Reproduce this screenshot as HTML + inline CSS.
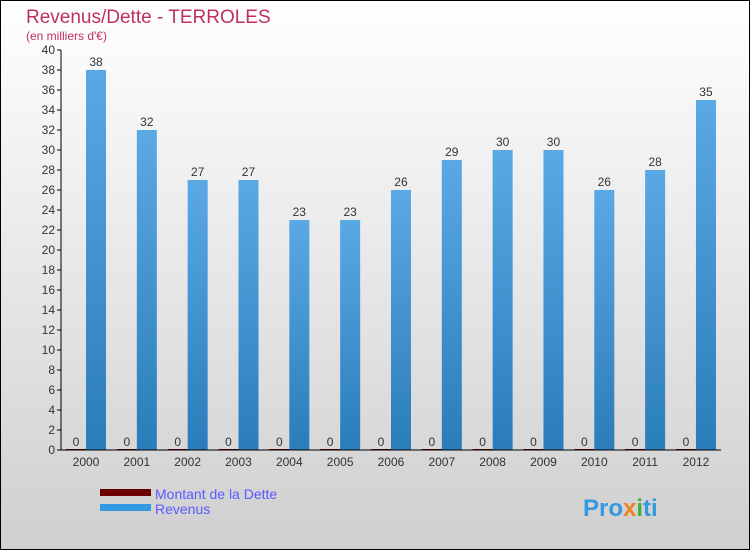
<!DOCTYPE html>
<html><head><meta charset="utf-8"><style>
body{margin:0}
svg{display:block;font-family:"Liberation Sans",sans-serif}
</style></head><body>
<svg id="chart" width="750" height="550">
<defs>
<linearGradient id="bg" x1="0" y1="0" x2="0" y2="1"><stop offset="0" stop-color="#ffffff"/><stop offset="1" stop-color="#cfcfcf"/></linearGradient>
<linearGradient id="bar" x1="0" y1="0" x2="0" y2="1"><stop offset="0" stop-color="#5aa9e4"/><stop offset="1" stop-color="#2a7cba"/></linearGradient>
</defs>
<rect x="0.5" y="0.5" width="749" height="549" fill="url(#bg)" stroke="#000"/>
<text x="26" y="23" font-size="19" fill="#c0305f">Revenus/Dette - TERROLES</text>
<text x="26" y="40" font-size="12" fill="#c0305f">(en milliers d'€)</text>
<g id="plot"></g>
<rect x="100" y="489" width="51" height="7" fill="#6b0000"/>
<text x="155" y="499" font-size="14" fill="#5a5aff">Montant de la Dette</text>
<rect x="100" y="504" width="51" height="7" fill="#3399e0"/>
<text x="155" y="514" font-size="14" fill="#5a5aff">Revenus</text>
<text x="583" y="516" font-size="24" font-weight="bold" fill="#3399e0">Pro<tspan fill="#f08020">x</tspan><tspan fill="#40b040">i</tspan>ti</text>
</svg>
<script>
const years=["2000","2001","2002","2003","2004","2005","2006","2007","2008","2009","2010","2011","2012"];
const revenus=[38,32,27,27,23,23,26,29,30,30,26,28,35];
const dette=[0,0,0,0,0,0,0,0,0,0,0,0,0];
const yTicks=[0,2,4,6,8,10,12,14,16,18,20,22,24,26,28,30,32,34,36,38,40];
const NS="http://www.w3.org/2000/svg";
const g=document.getElementById('plot');
const y=v=>450-v*10;
const xc=i=>86+i*50.83;
function mk(t,a){const e=document.createElementNS(NS,t);for(const k in a)e.setAttribute(k,a[k]);g.appendChild(e);return e;}
yTicks.forEach(v=>{
 const l=mk('line',{x1:57,x2:61,y1:y(v),y2:y(v),stroke:'#000'});
 
 
 const t=mk('text',{x:55,y:y(v)+4,'font-size':12,fill:'#333','text-anchor':'end'});t.textContent=v;
 
 
});
years.forEach((yr,i)=>{
 const c=xc(i);
 const d=mk('rect',{x:c-20,y:y(dette[i])-1,width:20,height:dette[i]*10+1,fill:'#6b0000'});
 
 
 const dl=mk('text',{x:c-10,y:y(dette[i])-4,'font-size':12,fill:'#333','text-anchor':'middle'});dl.textContent=dette[i];
 
 
 const r=mk('rect',{x:c,y:y(revenus[i]),width:20,height:revenus[i]*10,fill:'url(#bar)'});
 
 
 const rl=mk('text',{x:c+10,y:y(revenus[i])-4,'font-size':12,fill:'#333','text-anchor':'middle'});rl.textContent=revenus[i];
 
 
 const xl=mk('text',{x:c,y:466,'font-size':12,fill:'#333','text-anchor':'middle'});xl.textContent=yr;
 
 
});
const ya=mk('line',{x1:61,x2:61,y1:50,y2:450,stroke:'#000'});


const xa=mk('line',{x1:61,x2:721,y1:450,y2:450,stroke:'#000'});


</script>
</body></html>
